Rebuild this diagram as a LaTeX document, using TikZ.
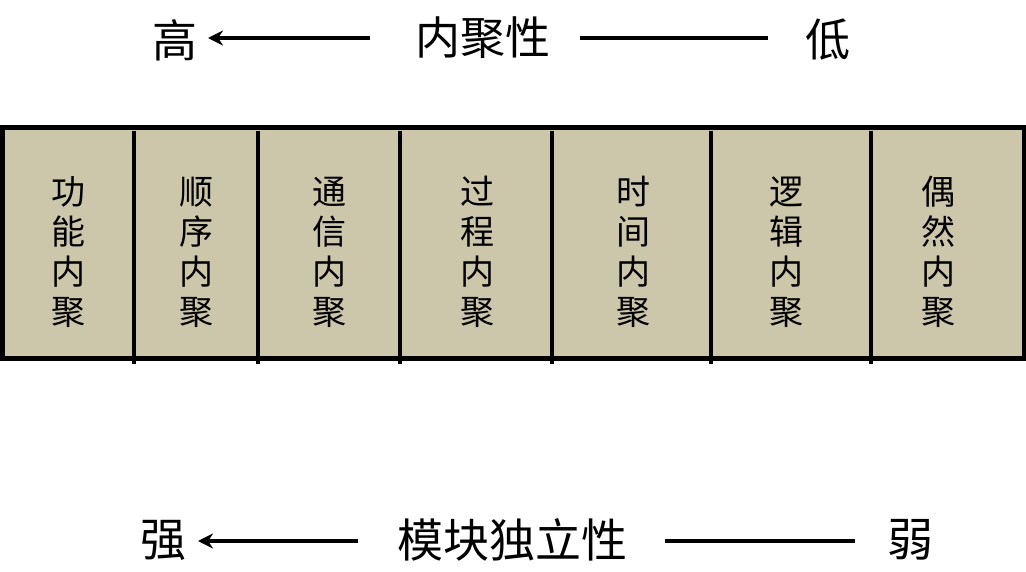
\documentclass[tikz,border=0pt]{standalone}
\usepackage{fontspec}
\setmainfont{Noto Sans CJK SC}
\usetikzlibrary{arrows.meta}
\definecolor{cellfill}{RGB}{204,199,171}
\begin{document}
\begin{tikzpicture}[x=1pt,y=-1pt,
  toplabel/.style={font=\fontsize{45}{50}\selectfont, inner sep=0pt},
  bottomlabel/.style={font=\fontsize{46}{50}\selectfont, inner sep=0pt},
  celltext/.style={font=\fontsize{34}{40}\selectfont, align=center, inner sep=0pt},
  plainrule/.style={line width=4.5pt},
  arr/.style={line width=4.5pt,-{Stealth[length=15pt,width=15pt]}},
  frame/.style={line width=5pt},
  divider/.style={line width=4pt}]
\useasboundingbox (0,0) rectangle (1026,572);
% box
\fill[cellfill] (2,128) rectangle (1024,358);
\draw[frame] (2,128) rectangle (1024,358);
\foreach \x in {134,258,400,552,711,871}{
  \draw[divider] (\x,131) -- (\x,364);
}
% cell texts
\node[celltext] (c1) at (68,252) {功\\能\\内\\聚};
\node[celltext] (c2) at (196,252) {顺\\序\\内\\聚};
\node[celltext] (c3) at (329,252) {通\\信\\内\\聚};
\node[celltext] (c4) at (477,252) {过\\程\\内\\聚};
\node[celltext] (c5) at (633,252) {时\\间\\内\\聚};
\node[celltext] (c6) at (786,252) {逻\\辑\\内\\聚};
\node[celltext] (c7) at (938,252) {偶\\然\\内\\聚};
% top scale
\node[toplabel] (high) at (175,40) {高};
\node[toplabel] (coh) at (483,38) {内聚性};
\node[toplabel] (low) at (828,40) {低};
\coordinate (ta) at (370,38);
\coordinate (tb) at (208,38);
\coordinate (tc) at (580,38);
\coordinate (td) at (768,38);
\draw[arr] (ta) -- (tb);
\draw[plainrule] (tc) -- (td);
% bottom scale
\node[bottomlabel] (strong) at (163,540) {强};
\node[bottomlabel] (indep) at (512,540) {模块独立性};
\node[bottomlabel] (weak) at (910,540) {弱};
\coordinate (ba) at (358,541);
\coordinate (bb) at (198,541);
\coordinate (bc) at (665,541);
\coordinate (bd) at (855,541);
\draw[arr] (ba) -- (bb);
\draw[plainrule] (bc) -- (bd);
\end{tikzpicture}
\end{document}
